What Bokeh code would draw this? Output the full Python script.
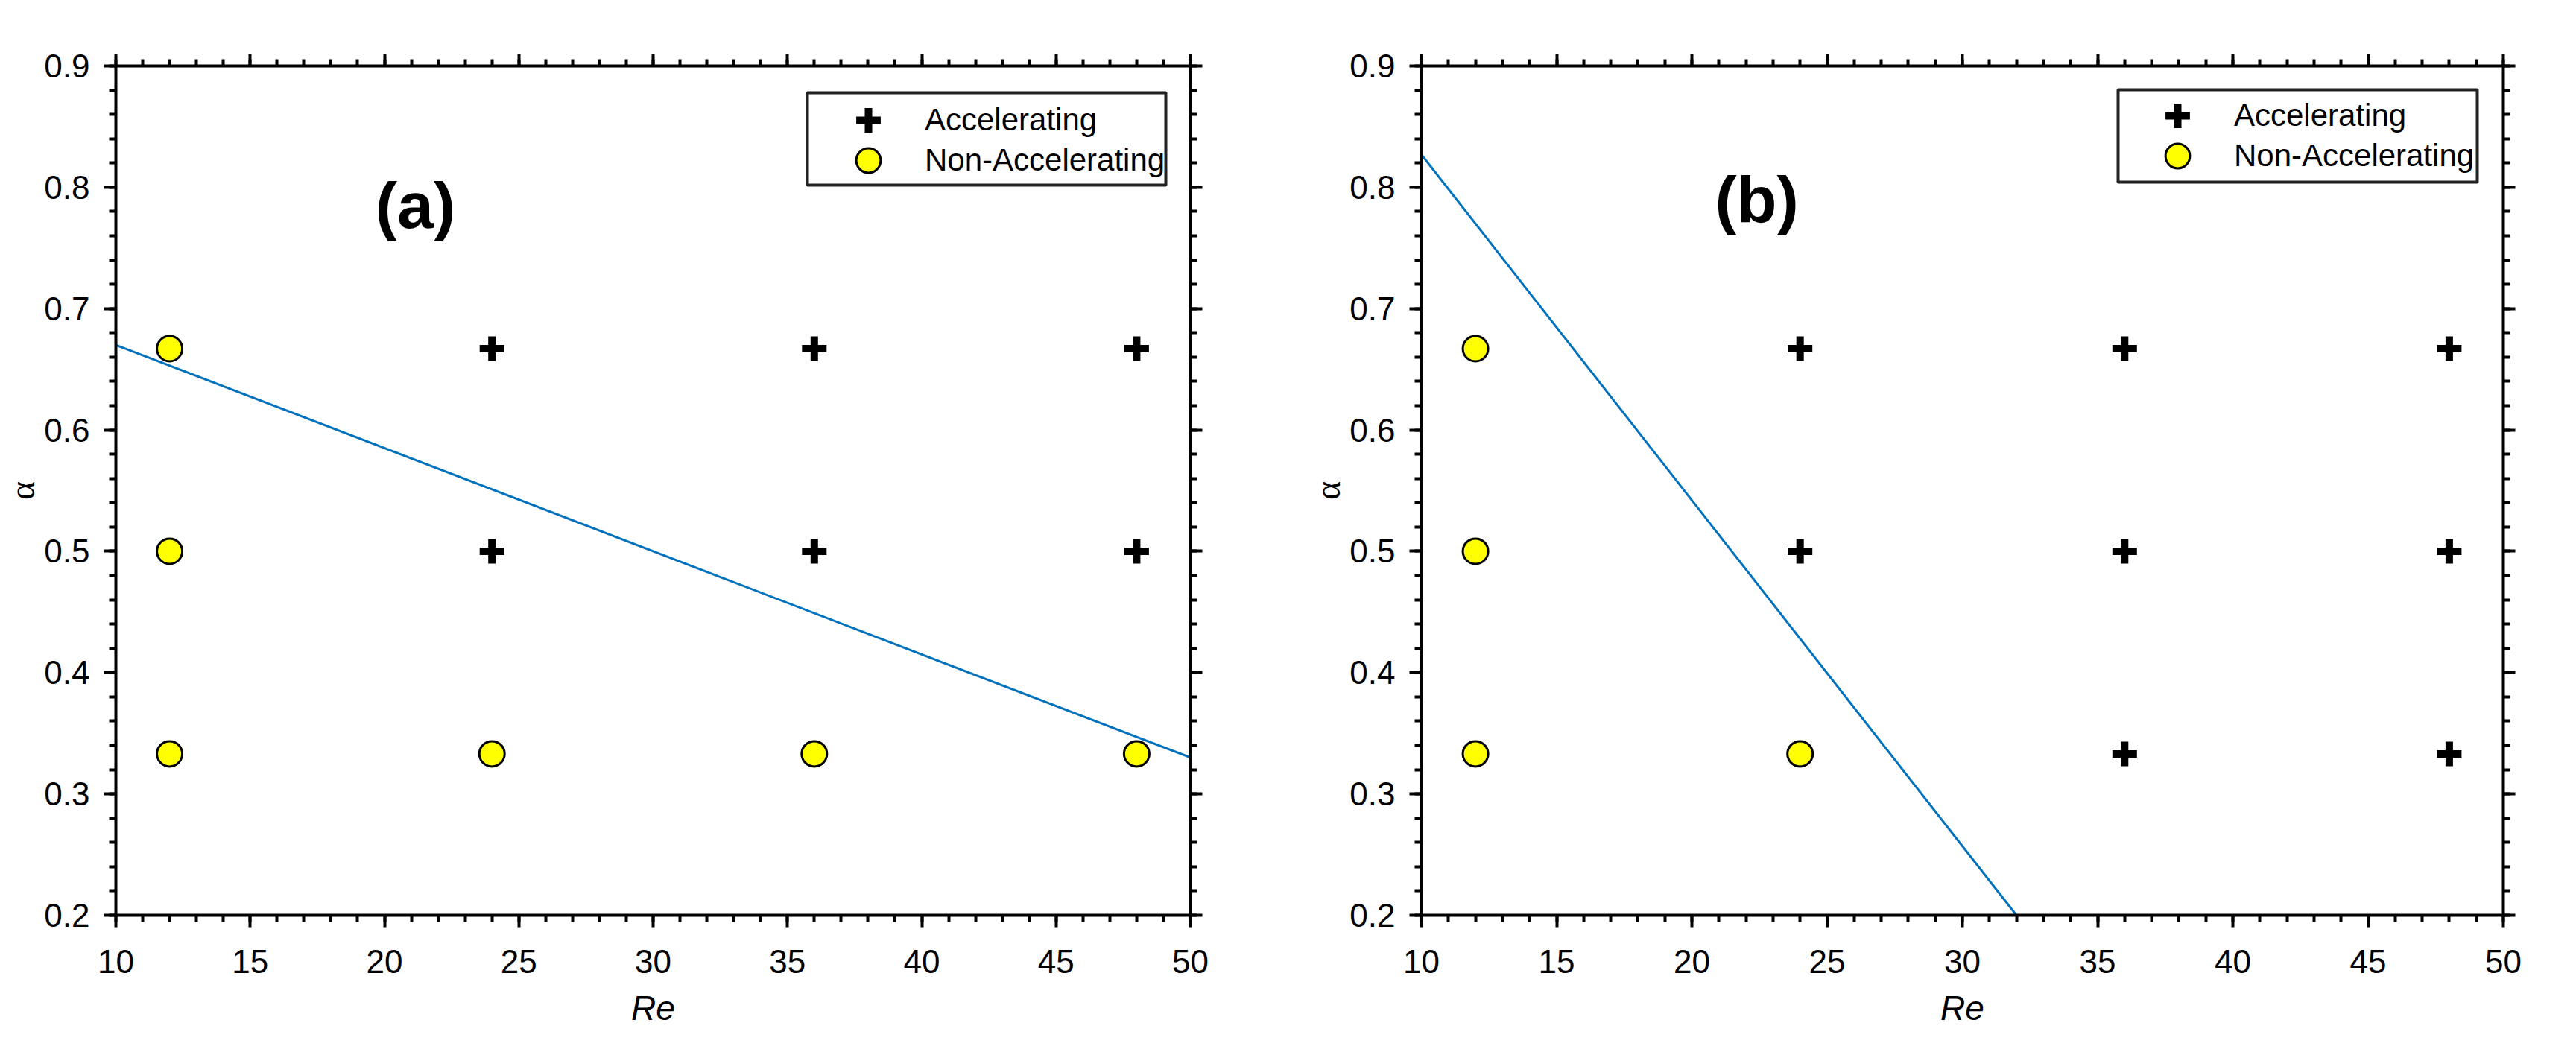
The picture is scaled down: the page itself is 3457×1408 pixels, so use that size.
from bokeh.plotting import figure
from bokeh.models import (Range1d, LinearAxis, FixedTicker, Legend, LegendItem,
                          Label, CustomJSTickFormatter, BoxAnnotation)
from bokeh.layouts import row
from bokeh.embed import file_html
from bokeh.resources import INLINE

# ---------------- data ----------------
# panel (a)
re_a_acc = [24, 36, 48, 24, 36, 48]
alpha_a_acc = [0.667, 0.667, 0.667, 0.5, 0.5, 0.5]
re_a_non = [12, 12, 12, 24, 36, 48]
alpha_a_non = [0.667, 0.5, 0.333, 0.333, 0.333, 0.333]
line_a_re = [10, 50]
line_a_alpha = [0.67, 0.33]

# panel (b)
re_b_acc = [24, 36, 48, 24, 36, 48, 36, 48]
alpha_b_acc = [0.667, 0.667, 0.667, 0.5, 0.5, 0.5, 0.333, 0.333]
re_b_non = [12, 12, 12, 24]
alpha_b_non = [0.667, 0.5, 0.333, 0.333]
line_b_re = [10, 32]
line_b_alpha = [0.827, 0.2]

x_ticks = [10, 15, 20, 25, 30, 35, 40, 45, 50]
y_ticks = [0.2, 0.3, 0.4, 0.5, 0.6, 0.7, 0.8, 0.9]
x_minor = list(range(10, 51))
y_minor = [round(0.2 + 0.02 * i, 2) for i in range(36)]

series_labels = ["Accelerating", "Non-Accelerating"]

FONT = "Liberation Sans"
BLACK = "#000000"


def style_axis(ax, ticks, minor, show_labels, standoff):
    ax.ticker = FixedTicker(ticks=ticks, minor_ticks=minor)
    ax.axis_line_width = 4
    ax.axis_line_color = BLACK
    ax.major_tick_line_width = 4
    ax.major_tick_line_color = BLACK
    ax.major_tick_out = 16
    ax.major_tick_in = 0
    ax.minor_tick_line_width = 4
    ax.minor_tick_line_color = BLACK
    ax.minor_tick_out = 9
    ax.minor_tick_in = 0
    ax.major_label_text_font = FONT
    ax.major_label_text_color = BLACK
    if show_labels:
        ax.major_label_text_font_size = "44px"
        ax.major_label_standoff = standoff
    else:
        ax.formatter = CustomJSTickFormatter(code="return ''")
        ax.major_label_text_font_size = "0px"
        ax.major_label_standoff = 0


def make_panel(tag, acc_x, acc_y, non_x, non_y, lx, ly, tag_pos,
               frame_w, frame_h, b_left, b_right, b_top, b_bottom,
               box, leg_x, leg_y1, leg_y2):
    p = figure(frame_width=frame_w, frame_height=frame_h,
               x_range=Range1d(10, 50), y_range=Range1d(0.2, 0.9),
               output_backend="svg", toolbar_location=None,
               min_border_left=b_left, min_border_right=b_right,
               min_border_top=b_top, min_border_bottom=b_bottom,
               background_fill_color="white", border_fill_color="white")
    p.xgrid.visible = False
    p.ygrid.visible = False
    p.outline_line_color = None

    xa = p.xaxis[0]
    ya = p.yaxis[0]
    style_axis(xa, x_ticks, x_minor, True, 30)
    style_axis(ya, y_ticks, y_minor, True, 19)
    xa.axis_label = "Re"
    xa.axis_label_text_font = FONT
    xa.axis_label_text_font_style = "italic"
    xa.axis_label_text_font_size = "46px"
    xa.axis_label_text_color = BLACK
    xa.axis_label_standoff = 18
    ya.axis_label = "α"
    ya.axis_label_text_font = "Liberation Serif"
    ya.axis_label_text_font_style = "normal"
    ya.axis_label_text_font_size = "48px"
    ya.axis_label_text_color = BLACK
    ya.axis_label_standoff = 0

    top = LinearAxis()
    style_axis(top, x_ticks, x_minor, False, 0)
    p.add_layout(top, "above")
    right = LinearAxis()
    style_axis(right, y_ticks, y_minor, False, 0)
    p.add_layout(right, "right")

    p.line(lx, ly, line_color="#0072BD", line_width=3)
    r_acc = p.scatter(acc_x, acc_y, marker="cross", size=33, line_width=10,
                      line_color=BLACK)
    r_non = p.scatter(non_x, non_y, marker="circle", size=34,
                      fill_color="#FFFF00", line_color=BLACK, line_width=3)

    # legend frame
    p.add_layout(BoxAnnotation(left=box[0], right=box[1], bottom=box[2],
                               top=box[3], left_units="screen",
                               right_units="screen", bottom_units="screen",
                               top_units="screen", fill_color="white",
                               fill_alpha=1.0, line_color="#222222",
                               line_width=4, line_alpha=1.0))

    for item_label, rend, ly_ in ((series_labels[0], r_acc, leg_y1),
                                  (series_labels[1], r_non, leg_y2)):
        lg = Legend(items=[LegendItem(label=item_label, renderers=[rend])],
                    location=(leg_x, ly_), orientation="vertical",
                    glyph_width=82, glyph_height=82, spacing=0,
                    padding=0, margin=0, label_standoff=35,
                    label_text_font=FONT, label_text_font_size="42px",
                    label_text_color=BLACK,
                    border_line_alpha=0, background_fill_alpha=0)
        p.add_layout(lg)

    p.add_layout(Label(x=tag_pos[0], y=tag_pos[1], text=tag,
                       text_font=FONT, text_font_style="bold",
                       text_font_size="88px", text_color=BLACK,
                       text_align="center", text_baseline="middle"))
    return p


p1 = make_panel("(a)", re_a_acc, alpha_a_acc, re_a_non, alpha_a_non,
                line_a_re, line_a_alpha, (21.15, 0.785),
                1442, 1140, 147, 153, 88, 164,
                (928, 1409, 980, 1104), 969, 1026, 972)
p2 = make_panel("(b)", re_b_acc, alpha_b_acc, re_b_non, alpha_b_non,
                line_b_re, line_b_alpha, (22.4, 0.79),
                1452, 1140, 157, 90, 88, 164,
                (935, 1417, 984, 1108), 974, 1032, 978)

layout = row(p1, p2)
open("out.html", "w").write(file_html(layout, INLINE))
